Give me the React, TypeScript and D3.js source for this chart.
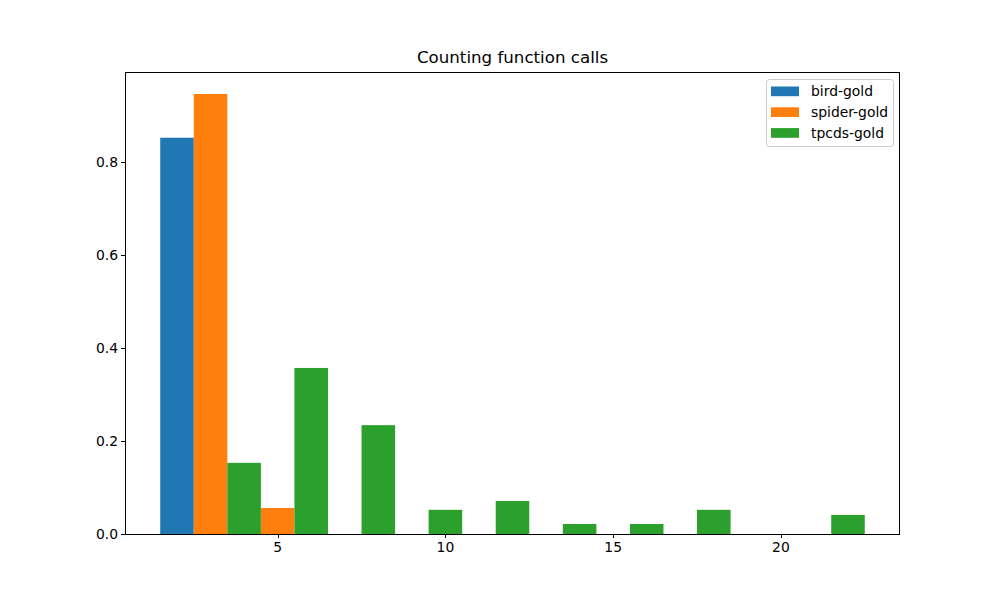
import React from "react";
import * as d3 from "d3";

const W = 1000;
const H = 600;
const M = { left: 125, right: 900, top: 72, bottom: 534 };

const title = "Counting function calls";
const seriesNames = ["bird-gold", "spider-gold", "tpcds-gold"];
const seriesColors = ["#1f77b4", "#ff7f0e", "#2ca02c"];

// bar centers and heights for each series
const birdX = [2];
const birdY = [0.852];
const spiderX = [3, 5];
const spiderY = [0.946, 0.056];
const tpcdsX = [4, 6, 8, 10, 12, 14, 16, 18, 22];
const tpcdsY = [0.153, 0.357, 0.234, 0.052, 0.071, 0.0215, 0.0215, 0.052, 0.041];

const xTicks = [5, 10, 15, 20];
const yTicks = [0, 0.2, 0.4, 0.6, 0.8];
const barWidth = 1;

const FONT = "DejaVu Sans, sans-serif";

export default function App() {
  const x = d3.scaleLinear().domain([0.45, 23.55]).range([M.left, M.right]);
  const y = d3.scaleLinear().domain([0, 0.946 * 1.05]).range([M.bottom, M.top]);

  const series = [
    { xs: birdX, ys: birdY },
    { xs: spiderX, ys: spiderY },
    { xs: tpcdsX, ys: tpcdsY },
  ];

  const legX = 766.5;
  const legY = 79.5;
  const legW = 127;
  const legH = 67;

  return (
    <svg
      width={W}
      height={H}
      style={{ position: "absolute", left: 0, top: 0, background: "#fff" }}
      fontFamily={FONT}
    >
      <rect x={0} y={0} width={W} height={H} fill="#fff" />
      {series.map((s, si) =>
        s.xs.map((cx, i) => (
          <rect
            key={`${si}-${i}`}
            x={x(cx - barWidth / 2)}
            y={y(s.ys[i])}
            width={x(cx + barWidth / 2) - x(cx - barWidth / 2)}
            height={y(0) - y(s.ys[i])}
            fill={seriesColors[si]}
          />
        ))
      )}
      {/* axes frame */}
      <rect
        x={M.left + 0.5}
        y={M.top + 0.5}
        width={M.right - M.left - 1}
        height={M.bottom - M.top}
        fill="none"
        stroke="#000"
        strokeWidth={1}
        shapeRendering="crispEdges"
      />
      {/* x ticks */}
      {xTicks.map((t) => (
        <g key={`xt${t}`}>
          <line x1={Math.round(x(t)) + 0.5} x2={Math.round(x(t)) + 0.5} y1={M.bottom} y2={M.bottom + 4} stroke="#000" strokeWidth={1} shapeRendering="crispEdges" />
          <text x={x(t)} y={M.bottom + 18} textAnchor="middle" fontSize={13.9} fill="#000">
            {t}
          </text>
        </g>
      ))}
      {/* y ticks */}
      {yTicks.map((t) => (
        <g key={`yt${t}`}>
          <line x1={M.left - 4} x2={M.left} y1={Math.round(y(t)) + 0.5} y2={Math.round(y(t)) + 0.5} stroke="#000" strokeWidth={1} shapeRendering="crispEdges" />
          <text
            x={M.left - 7}
            y={y(t)}
            dy="0.35em"
            textAnchor="end"
            fontSize={13.9}
            fill="#000"
          >
            {t.toFixed(1)}
          </text>
        </g>
      ))}
      <text x={(M.left + M.right) / 2} y={63} textAnchor="middle" fontSize={16.67} fill="#000">
        {title}
      </text>
      {/* legend */}
      <rect
        x={legX}
        y={legY}
        width={legW}
        height={legH}
        rx={3}
        fill="#fff"
        fillOpacity={0.8}
        stroke="#cccccc"
        strokeWidth={1}
      />
      {seriesNames.map((n, i) => (
        <g key={n}>
          <rect x={771} y={86.5 + i * 20.8} width={28} height={9.7} fill={seriesColors[i]} />
          <text x={811} y={91.3 + i * 20.8} dy="0.35em" fontSize={13.9} fill="#000">
            {n}
          </text>
        </g>
      ))}
    </svg>
  );
}
